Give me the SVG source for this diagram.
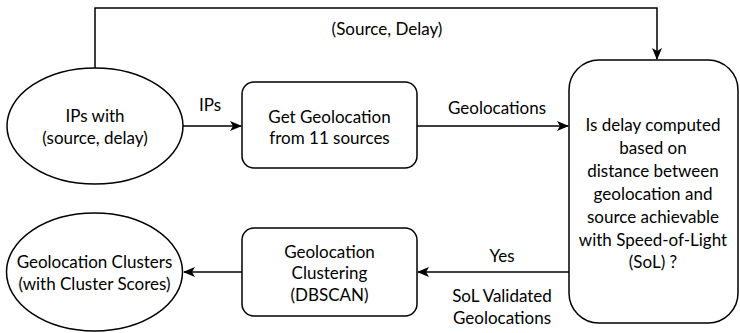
<svg xmlns="http://www.w3.org/2000/svg" width="740" height="333" viewBox="0 0 740 333">
<style>
.n{fill:#fff;stroke:#000;stroke-width:1.5}
.c{fill:none;stroke:#000;stroke-width:1.5}
text{font-family:Lato,"Noto Sans",sans-serif;font-size:17px;fill:#000;text-anchor:middle;dominant-baseline:central}
</style>
<defs>
<marker id="a" viewBox="0 0 12 10" refX="11" refY="5" markerWidth="12" markerHeight="10" markerUnits="userSpaceOnUse" orient="auto">
<path d="M0,0 L12,5 L0,10 L3,5 Z" fill="#000"/>
</marker>
</defs>
<g id="connectors">
<path class="c" d="M95,68 V8 H657 V59" marker-end="url(#a)"/>
<text x="387" y="28">(Source, Delay)</text>
<path class="c" d="M183,126 H241" marker-end="url(#a)"/>
<text x="210" y="104">IPs</text>
<path class="c" d="M417,126 H568" marker-end="url(#a)"/>
<text x="497" y="107">Geolocations</text>
<path class="c" d="M569,272 H418" marker-end="url(#a)"/>
<text x="502" y="255">Yes</text>
<text x="502" y="295">SoL Validated</text>
<text x="502" y="317">Geolocations</text>
<path class="c" d="M242,272 H184" marker-end="url(#a)"/>
</g>
<g id="ips">
<ellipse class="n" cx="95" cy="126" rx="88" ry="58"/>
<text x="95" y="115">IPs with</text>
<text x="95" y="137">(source, delay)</text>
</g>
<g id="getgeo">
<rect class="n" x="242" y="82" width="175" height="86" rx="12"/>
<text x="329.5" y="116">Get Geolocation</text>
<text x="329.5" y="137">from 11 sources</text>
</g>
<g id="decision">
<rect class="n" x="569" y="60" width="169" height="263" rx="30"/>
<text x="653" y="124">Is delay computed</text>
<text x="653" y="147">based on</text>
<text x="653" y="170">distance between</text>
<text x="653" y="193">geolocation and</text>
<text x="653" y="216">source achievable</text>
<text x="653" y="239">with Speed-of-Light</text>
<text x="653" y="261">(SoL) ?</text>
</g>
<g id="clustering">
<rect class="n" x="242" y="228" width="175" height="88" rx="12"/>
<text x="329.5" y="251">Geolocation</text>
<text x="329.5" y="272">Clustering</text>
<text x="329.5" y="294">(DBSCAN)</text>
</g>
<g id="clusters">
<ellipse class="n" cx="94.5" cy="272" rx="88" ry="59"/>
<text x="94.5" y="261">Geolocation Clusters</text>
<text x="94.5" y="283">(with Cluster Scores)</text>
</g>
</svg>
